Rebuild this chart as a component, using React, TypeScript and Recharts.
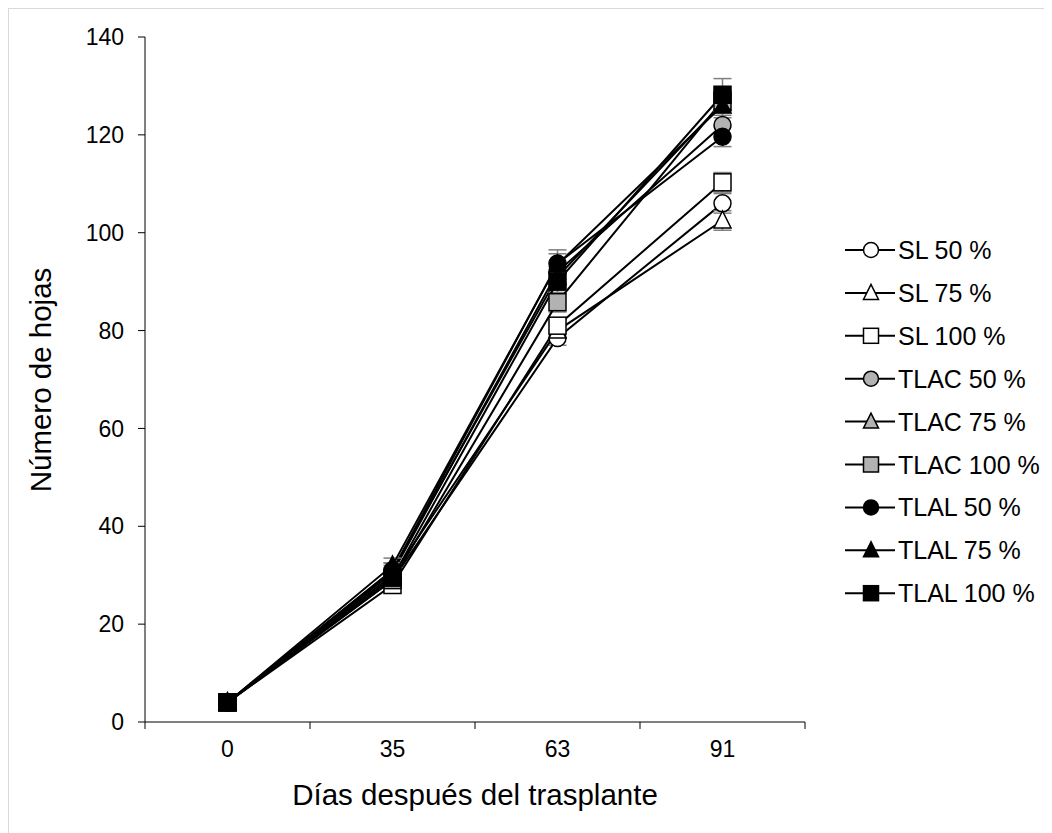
import React from 'react';
import { LineChart, Line, XAxis, YAxis, ErrorBar, Legend, Label } from 'recharts';

// días después del trasplante
const categories = ['0', '35', '63', '91'];
const yTicks = [0, 20, 40, 60, 80, 100, 120, 140];

const sl50 = [4, 29, 78.5, 106];
const sl75 = [4, 30, 80, 102.5];
const sl100 = [4, 28, 81, 110.3];
const tlac50 = [4, 30.5, 92, 122];
const tlac75 = [4, 31, 91, 126.5];
const tlac100 = [4, 29, 85.8, 127];
const tlal50 = [4, 31, 93.7, 119.6];
const tlal75 = [4, 32, 93.5, 126];
const tlal100 = [4, 29.5, 90, 128.2];

const sl50Err = [0.3, 1.5, 1.5, 2];
const sl75Err = [0.3, 1.5, 1.5, 2];
const sl100Err = [0.3, 1.5, 1.5, 2];
const tlac50Err = [0.3, 1.5, 2, 2];
const tlac75Err = [0.3, 1.5, 2, 2];
const tlac100Err = [0.3, 1.5, 2, 2];
const tlal50Err = [0.3, 1.5, 2, 2];
const tlal75Err = [0.3, 1.5, 3, 2.5];
const tlal100Err = [0.3, 1.5, 2.5, 3.3];

type Shape = 'circle' | 'triangle' | 'square';

const series: { key: string; name: string; shape: Shape; fill: string; values: number[]; err: number[] }[] = [
  { key: 'sl50', name: 'SL 50 %', shape: 'circle', fill: '#ffffff', values: sl50, err: sl50Err },
  { key: 'sl75', name: 'SL 75 %', shape: 'triangle', fill: '#ffffff', values: sl75, err: sl75Err },
  { key: 'sl100', name: 'SL 100 %', shape: 'square', fill: '#ffffff', values: sl100, err: sl100Err },
  { key: 'tlac50', name: 'TLAC 50 %', shape: 'circle', fill: '#b2b2b2', values: tlac50, err: tlac50Err },
  { key: 'tlac75', name: 'TLAC 75 %', shape: 'triangle', fill: '#b2b2b2', values: tlac75, err: tlac75Err },
  { key: 'tlac100', name: 'TLAC 100 %', shape: 'square', fill: '#b2b2b2', values: tlac100, err: tlac100Err },
  { key: 'tlal50', name: 'TLAL 50 %', shape: 'circle', fill: '#000000', values: tlal50, err: tlal50Err },
  { key: 'tlal75', name: 'TLAL 75 %', shape: 'triangle', fill: '#000000', values: tlal75, err: tlal75Err },
  { key: 'tlal100', name: 'TLAL 100 %', shape: 'square', fill: '#000000', values: tlal100, err: tlal100Err },
];

const data = categories.map((c, i) => {
  const row: Record<string, number | string> = { day: c, pos: i + 0.5 };
  series.forEach((s) => {
    row[s.key] = s.values[i];
    row[s.key + '_e'] = s.err[i];
  });
  return row;
});

const xTicks = [0, 0.5, 1, 1.5, 2, 2.5, 3, 3.5, 4];
const font = '"Liberation Sans", Arial, sans-serif';

const Marker = ({ cx, cy, shape, fill, size = 8.5 }: { cx: number; cy: number; shape: Shape; fill: string; size?: number }) => {
  if (shape === 'circle') {
    return <circle cx={cx} cy={cy} r={size} fill={fill} stroke="#000" strokeWidth={1.5} />;
  }
  if (shape === 'square') {
    return <rect x={cx - size} y={cy - size} width={size * 2} height={size * 2} fill={fill} stroke="#000" strokeWidth={1.5} />;
  }
  return (
    <polygon
      points={`${cx},${cy - size - 1} ${cx - size},${cy + size - 1} ${cx + size},${cy + size - 1}`}
      fill={fill}
      stroke="#000"
      strokeWidth={1.5}
    />
  );
};

const XTick = (props: any) => {
  const { x, y, payload } = props;
  const v = payload.value;
  if (Number.isInteger(v)) {
    return <line x1={x} y1={y} x2={x} y2={y + 7} stroke="#000" strokeWidth={1} />;
  }
  return (
    <text x={x} y={y + 35} textAnchor="middle" fontSize={23} fontFamily={font} fill="#000">
      {categories[Math.floor(v)]}
    </text>
  );
};

const LegendContent = () => (
  <svg width={210} height={380} style={{ overflow: 'visible' }}>
    {series.map((s, i) => {
      const cy = 12 + i * 42.9;
      return (
        <g key={s.key}>
          <line x1={0} y1={cy} x2={50} y2={cy} stroke="#000" strokeWidth={2} />
          <Marker cx={26} cy={cy} shape={s.shape} fill={s.fill} size={7.5} />
          <text x={53} y={cy + 9} fontSize={25} fontFamily={font} fill="#000">
            {s.name}
          </text>
        </g>
      );
    })}
  </svg>
);

export default function App() {
  return (
    <div
      style={{
        width: 1043,
        height: 825,
        borderTop: '1px solid #d9d9d9',
        borderLeft: '1px solid #d9d9d9',
        background: '#fff',
        overflow: 'hidden',
      }}
    >
      <LineChart width={1043} height={825} data={data} margin={{ top: 28, right: 247, bottom: 72, left: 76 }}>
        <XAxis
          dataKey="pos"
          type="number"
          domain={[0, 4]}
          ticks={xTicks}
          interval={0}
          tickLine={false}
          tickSize={0}
          tickMargin={0}
          tick={<XTick />}
          height={40}
          axisLine={{ stroke: '#000', strokeWidth: 1 }}
        >
          <Label
            content={() => (
              <text x={466} y={796} textAnchor="middle" fontSize={29.5} fontFamily={font} fill="#000">
                Días después del trasplante
              </text>
            )}
          />
        </XAxis>
        <YAxis
          type="number"
          domain={[0, 140]}
          ticks={yTicks}
          interval={0}
          width={60}
          tickSize={7}
          tickMargin={14}
          tick={{ fontSize: 23, fontFamily: font, fill: '#000' }}
          tickLine={{ stroke: '#000' }}
          axisLine={{ stroke: '#000', strokeWidth: 1 }}
        >
          <Label
            content={() => (
              <text
                x={42}
                y={371}
                transform="rotate(-90 42 371)"
                textAnchor="middle"
                fontSize={29.5}
                fontFamily={font}
                fill="#000"
              >
                Número de hojas
              </text>
            )}
          />
        </YAxis>
        {series.map((s) => (
          <Line
            key={s.key}
            dataKey={s.key}
            name={s.name}
            stroke="#000"
            strokeWidth={2}
            isAnimationActive={false}
            dot={(p: any) => <Marker key={`${s.key}-${p.index}`} cx={p.cx} cy={p.cy} shape={s.shape} fill={s.fill} />}
            activeDot={false}
          >
            <ErrorBar dataKey={s.key + '_e'} direction="y" width={9} stroke="#7f7f7f" strokeWidth={1.5} />
          </Line>
        ))}
        <Legend
          content={<LegendContent />}
          layout="vertical"
          wrapperStyle={{ position: 'absolute', left: 836, top: 229, width: 0, height: 0, overflow: 'visible' }}
        />
      </LineChart>
    </div>
  );
}
